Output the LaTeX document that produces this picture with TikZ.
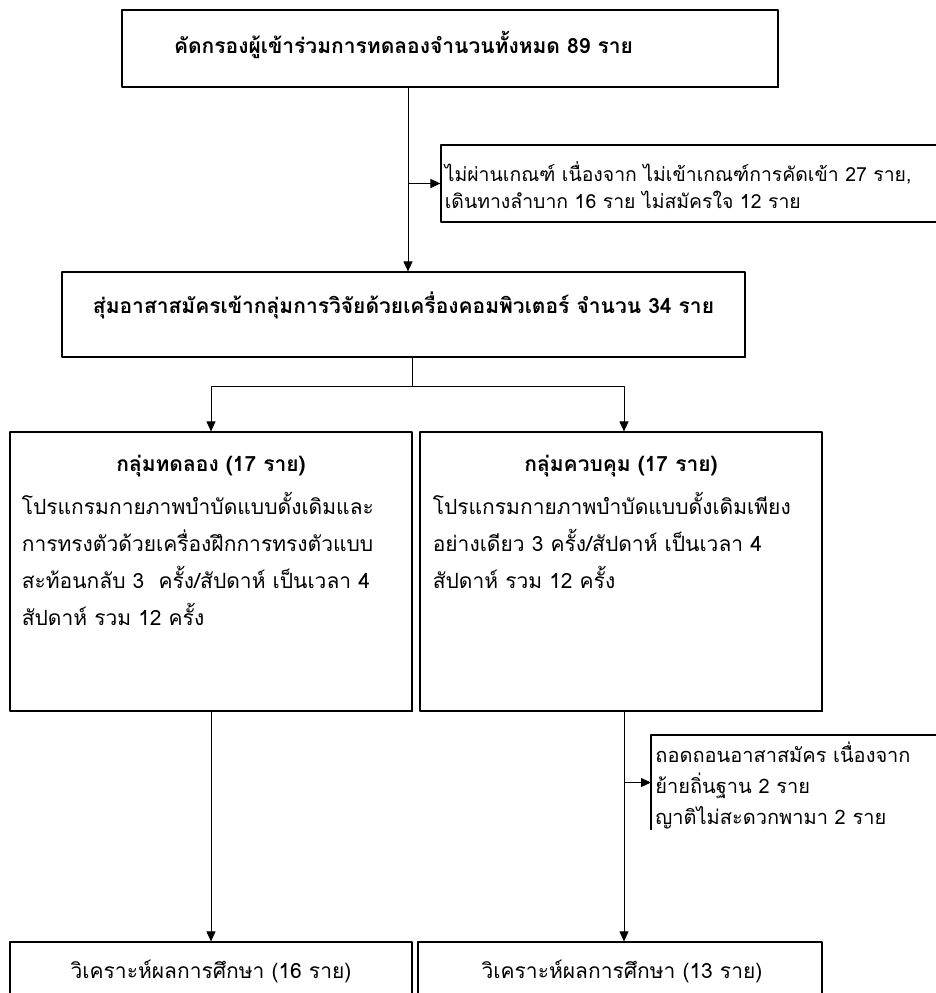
\documentclass[tikz,border=0pt]{standalone}
\usepackage{fontspec}
\setmainfont[Script=Thai]{Loma}
\usetikzlibrary{arrows.meta,shadows,calc}
\tikzset{
  box/.style={draw, line width=0.6pt, fill=white, inner sep=0pt,
    drop shadow={shadow xshift=0.7pt, shadow yshift=-0.7pt, opacity=1, fill=black}},
  head/.style={font=\bfseries\fontsize{10.5}{13}\selectfont, inner sep=0pt},
  body/.style={font=\fontsize{10.5}{18.5}\selectfont, align=left, inner sep=0pt},
  arr/.style={line width=0.5pt, -{Triangle[length=5pt,width=4.5pt]}}
}
\begin{document}
\begin{tikzpicture}[x=0.5pt, y=-0.5pt, line join=round]
  \useasboundingbox (0,0) rectangle (936,993);
  \clip (0,0) rectangle (936,993);
  % boxes
  \node[box, minimum width=328pt, minimum height=38.5pt] (top) at (450,48.5) {};
  \node[box, minimum width=341.5pt, minimum height=42.5pt] (rand) at (403.5,314.5) {};
  \node[box, minimum width=279.5pt, minimum height=38.5pt] (excl) at (720.5,183.5) {};
  \node[box, minimum width=201pt, minimum height=139.5pt] (lbox) at (211,571.5) {};
  \node[box, minimum width=201pt, minimum height=139.5pt] (rbox) at (621,571.5) {};
  \node[box, minimum width=201pt, minimum height=49pt] (lres) at (211,991) {};
  \node[box, minimum width=202pt, minimum height=49pt] (rres) at (620,991) {};
  % withdrawal box (open)
  \coordinate (wtl) at (651,735);
  \coordinate (wbl) at (651,830);
  \coordinate (wtr) at (1000,735);
  \draw[line width=0.6pt] (wtr) -- (wtl) -- (wbl);
  % texts
  \node[head] (toptxt) at ([yshift=1.75pt]top.center -| rand.center) {คัดกรองผู้เข้าร่วมการทดลองจำนวนทั้งหมด 89 ราย};
  \node[head] (randtxt) at ([yshift=4.75pt]rand.center) {สุ่มอาสาสมัครเข้ากลุ่มการวิจัยด้วยเครื่องคอมพิวเตอร์ จำนวน 34 ราย};
  \node[body, font=\fontsize{9.7}{13.5}\selectfont, anchor=north west] (excltxt) at ([xshift=2pt,yshift=-8.5pt]excl.north west)
    {ไม่ผ่านเกณฑ์ เนื่องจาก ไม่เข้าเกณฑ์การคัดเข้า 27 ราย,\\เดินทางลำบาก 16 ราย ไม่สมัครใจ 12 ราย};
  \node[head] (lhead) at ([yshift=-17.5pt]lbox.north) {กลุ่มทดลอง (17 ราย)};
  \node[body, anchor=north west] (ltxt) at ([xshift=6pt,yshift=-30pt]lbox.north west)
    {โปรแกรมกายภาพบำบัดแบบดั้งเดิมและ\\การทรงตัวด้วยเครื่องฝึกการทรงตัวแบบ\\สะท้อนกลับ 3~ ครั้ง/สัปดาห์ เป็นเวลา 4\\สัปดาห์ รวม 12 ครั้ง};
  \node[head] (rhead) at ([yshift=-17.5pt]rbox.north) {กลุ่มควบคุม (17 ราย)};
  \node[body, anchor=north west] (rtxt) at ([xshift=6.5pt,yshift=-30pt]rbox.north west)
    {โปรแกรมกายภาพบำบัดแบบดั้งเดิมเพียง\\อย่างเดียว 3 ครั้ง/สัปดาห์ เป็นเวลา 4\\สัปดาห์ รวม 12 ครั้ง};
  \node[body, font=\fontsize{10}{15.5}\selectfont, anchor=north west] (wtxt) at ([xshift=2pt,yshift=-3.5pt]wtl)
    {ถอดถอนอาสาสมัคร เนื่องจาก\\ย้ายถิ่นฐาน 2 ราย\\ญาติไม่สะดวกพามา 2 ราย};
  \node[body] (lrestxt) at ([yshift=-15pt]lres.north) {วิเคราะห์ผลการศึกษา (16 ราย)};
  \node[body] (rrestxt) at ([yshift=-15pt,xshift=1pt]rres.north) {วิเคราะห์ผลการศึกษา (13 ราย)};
  % connectors
  \coordinate (spine) at (408,0);
  \coordinate (split) at (412,386);
  \coordinate (wmid) at ($(wtl)!0.5!(wbl)$);
  \draw[arr] (top.south -| spine) -- (rand.north -| spine);
  \draw[arr] (spine |- excl.west) -- (excl.west);
  \draw[line width=0.5pt] (rand.south -| split) -- (split);
  \draw[arr] (split) -| (lbox.north);
  \draw[arr] (split) -| ([xshift=1.5pt]rbox.north);
  \draw[arr] (lbox.south) -- (lres.north);
  \draw[arr] ([xshift=1.5pt]rbox.south) -- ([xshift=1.5pt]rbox.south |- rres.north);
  \draw[arr] ([xshift=1.5pt]rbox.south |- wmid) -- (wmid);
\end{tikzpicture}
\end{document}
